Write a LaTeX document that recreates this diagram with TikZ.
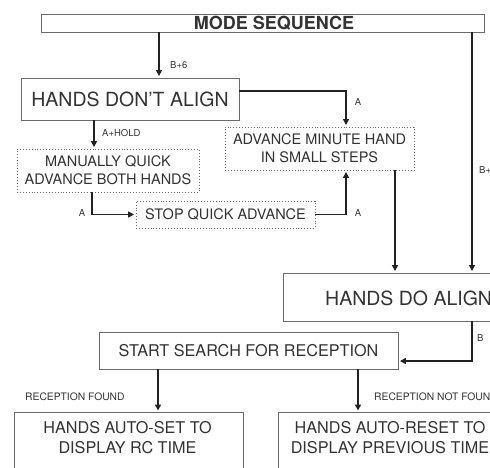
\documentclass[tikz,border=0pt]{standalone}
\usepackage{fontspec}
\setmainfont{TeX Gyre Heros}
\usetikzlibrary{arrows.meta,calc}
\definecolor{txt}{HTML}{333333}
\definecolor{frame}{HTML}{6A6A6A}
\definecolor{arrc}{HTML}{222222}
\begin{document}
\begin{tikzpicture}[x=1pt,y=-1pt,
  box/.style={draw=frame,line width=0.9pt,inner sep=0pt,text=txt,align=center},
  dotbox/.style={box,dotted},
  tx/.style={inner sep=0pt,text=txt,align=center},
  lbl/.style={inner sep=0pt,text=txt,font=\fontsize{9.5}{10}\selectfont},
  rlbl/.style={lbl,font=\fontsize{10.3}{11}\selectfont},
  arr/.style={draw=arrc,line width=1.8pt,-{Triangle[length=6pt,width=6pt]},shorten >=1.5pt},
  big/.style={font=\fontsize{19.5}{23}\selectfont},
  mid/.style={font=\fontsize{14.5}{18}\selectfont},
  lrg/.style={font=\fontsize{16.2}{20}\selectfont}]
\useasboundingbox (0,0) rectangle (490,467);
\clip (0,0) rectangle (490,467);
\fill[white] (0,0) rectangle (490,467);

% columns
\coordinate (xa) at (159,0);
\coordinate (xb) at (94,0);
\coordinate (xc) at (346,0);
\coordinate (xd) at (92,0);
\coordinate (xe) at (395,0);
\coordinate (xf) at (472,0);
\coordinate (xg) at (158,0);
\coordinate (xh) at (358,0);

% boxes
\node[box,minimum width=443pt,minimum height=18pt] (mode) at (262.5,23) {};
\node[tx,font=\bfseries\fontsize{18}{20}\selectfont] (modetxt) at (274,23) {MODE SEQUENCE};

\node[box,big,minimum width=218pt,minimum height=42pt] (dont) at (130,99) {HANDS DON’T ALIGN};

\node[dotbox,mid,minimum width=189pt,minimum height=43pt] (adv) at (319.5,148.5) {ADVANCE MINUTE HAND\\IN SMALL STEPS};

\node[dotbox,mid,minimum width=182pt,minimum height=43pt] (manual) at (108,170.5) {MANUALLY QUICK\\ADVANCE BOTH HANDS};

\node[dotbox,mid,minimum width=179pt,minimum height=27pt] (stop) at (225.5,214.5) {STOP QUICK ADVANCE};

\node[box,minimum width=254pt,minimum height=48pt] (doalign) at (410,297) {};
\node[tx,big,anchor=west] (doaligntxt) at (325,298) {HANDS DO ALIGN};

\node[box,lrg,minimum width=299pt,minimum height=37pt] (start) at (248.5,350.5) {START SEARCH FOR RECEPTION};

\node[box,minimum width=229pt,minimum height=70pt,anchor=north] (found) at (128.5,412) {};
\node[tx,lrg] (foundtxt) at (127.5,438) {HANDS AUTO-SET TO\\DISPLAY RC TIME};

\node[box,minimum width=222pt,minimum height=70pt,anchor=north] (notfound) at (389,412) {};
\node[tx,lrg] (notfoundtxt) at (390,438) {HANDS AUTO-RESET TO\\DISPLAY PREVIOUS TIME};

% connectors
\draw[arr] (mode.south -| xa) -- (dont.north -| xa);
\draw[arr] ([yshift=8pt]dont.east) -| (adv.north -| xc);
\draw[arr] (dont.south -| xb) -- (manual.north -| xb);
\draw[arr] (manual.south -| xd) |- (stop.west);
\draw[arr] (stop.east) -| (adv.south -| xc);
\draw[arr] (adv.south -| xe) -- (doalign.north -| xe);
\draw[arr] (mode.south -| xf) -- (doalign.north -| xf);
\draw[arr] (doalign.south -| xf) |- ([yshift=-10.5pt]start.east);
\draw[arr] (start.south -| xg) -- (found.north -| xg);
\draw[arr] (start.south -| xh) -- (notfound.north -| xh);

% labels
\node[lbl,anchor=west] (l1) at (170,65) {B+6};
\node[lbl] (l2) at (358,102) {A};
\node[lbl,anchor=west] (l3) at (102,133) {A+HOLD};
\node[lbl] (l4) at (82,213) {A};
\node[lbl] (l5) at (358,213) {A};
\node[lbl,anchor=west] (l6) at (479,170) {B+6};
\node[lbl,anchor=west] (l7) at (477,338) {B};
\node[rlbl,anchor=west] (l8) at (25,397) {RECEPTION FOUND};
\node[rlbl,anchor=west] (l9) at (374,397) {RECEPTION NOT FOUND};
\end{tikzpicture}
\end{document}
